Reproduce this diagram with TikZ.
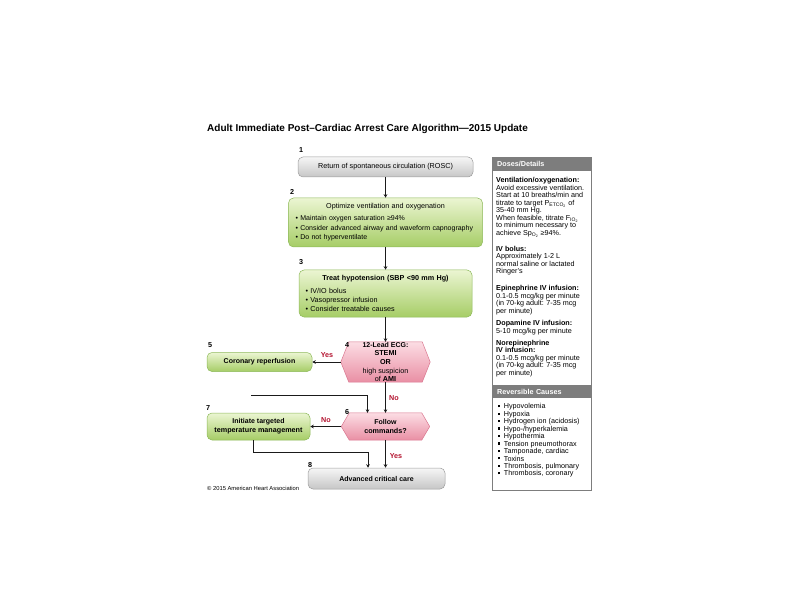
\documentclass[tikz,border=0pt]{standalone}
\usepackage{fontspec}
\setmainfont{Liberation Sans}
\usetikzlibrary{arrows.meta, positioning, calc, backgrounds}
\definecolor{inkline}{HTML}{1A1A1A}
\definecolor{greytop}{HTML}{F6F6F6}
\definecolor{greybot}{HTML}{C6C6C6}
\definecolor{greyedge}{HTML}{9C9C9C}
\definecolor{greentop}{HTML}{EBF5D2}
\definecolor{greenbot}{HTML}{A6CD66}
\definecolor{greenedge}{HTML}{8DB95A}
\definecolor{pinktop}{HTML}{FCDDE4}
\definecolor{pinkbot}{HTML}{E98FA4}
\definecolor{pinkedge}{HTML}{D9768F}
\definecolor{answerred}{HTML}{B3122E}
\definecolor{panelgrey}{HTML}{7D7D7D}
\newcommand{\boxfont}{\fontsize{7.2}{8.6}\selectfont}
\newcommand{\panelfont}{\fontsize{7.2}{7.5}\selectfont}
\newcommand{\sqbullet}{\rule[1.6pt]{2.2pt}{2.2pt}\hspace{3.5pt}}
\newcommand{\hexbox}[6]{%
  \node[hexnode, minimum width=#4, minimum height=#5] (#1) at (#2,#3) {#6};
  \begin{pgfonlayer}{background}
    \shadedraw[top color=pinktop, bottom color=pinkbot, draw=pinkedge, line width=0.5pt]
      (#1.west) -- ([xshift=8pt]#1.north west) -- ([xshift=-8pt]#1.north east)
      -- (#1.east) -- ([xshift=-8pt]#1.south east) -- ([xshift=8pt]#1.south west) -- cycle;
  \end{pgfonlayer}}

\begin{document}
\begin{tikzpicture}[x=1pt, y=-1pt, font=\boxfont,
    flowline/.style={draw=inkline, line width=0.8pt, -{Stealth[length=3.5pt, width=3.5pt]}},
    greybox/.style={rounded corners=5pt, top color=greytop, bottom color=greybot,
      draw=greyedge, line width=0.5pt, inner sep=0pt, align=center},
    greenbox/.style={rounded corners=5pt, top color=greentop, bottom color=greenbot,
      draw=greenedge, line width=0.5pt, inner sep=0pt, align=center},
    hexnode/.style={inner sep=0pt, align=center},
    stepnum/.style={font=\boxfont\bfseries, inner sep=0pt},
    answer/.style={font=\boxfont\bfseries, text=answerred, inner sep=0pt},
    panelhead/.style={fill=panelgrey, text=white, font=\boxfont\bfseries, anchor=north west,
      text width=89pt, inner xsep=5pt, inner ysep=0pt, align=left},
    panelbody/.style={anchor=north west, inner sep=0pt, align=left, font=\panelfont}]
  \useasboundingbox (0,0) rectangle (792,612);

  \node[anchor=west, inner sep=0pt, font=\fontsize{10}{12}\selectfont\bfseries] (title)
    at (207,129) {Adult Immediate Post–Cardiac Arrest Care Algorithm—2015 Update};

  % main column
  \node[greybox, minimum width=175pt, minimum height=20pt] (rosc) at (385.5,167)
    {Return of spontaneous circulation (ROSC)};
  \node[greenbox, minimum width=194pt, minimum height=49pt, text width=180pt, align=left,
        font=\fontsize{7}{9.5}\selectfont] (ventil) at (385.5,222.5)
    {\makebox[180pt]{\fontsize{7.2}{9.5}\selectfont Optimize ventilation and oxygenation}\\[2.5pt]
     \textbullet\ Maintain oxygen saturation ≥94\%\\
     \textbullet\ Consider advanced airway and waveform capnography\\
     \textbullet\ Do not hyperventilate};
  \node[greenbox, minimum width=173pt, minimum height=47pt, text width=160pt, align=left,
        font=\fontsize{7.2}{9}\selectfont] (hypot) at (385.5,293.5)
    {\makebox[160pt]{\textbf{Treat hypotension (SBP <90 mm Hg)}}\\[4pt]
     \textbullet\ IV/IO bolus\\
     \textbullet\ Vasopressor infusion\\
     \textbullet\ Consider treatable causes};
  \hexbox{ecg}{385.5}{362}{89pt}{40pt}{\fontsize{7}{7.7}\selectfont
    \textbf{12-Lead ECG:}\\ \textbf{STEMI}\\ \textbf{OR}\\ high suspicion\\ of \textbf{AMI}}
  \hexbox{follow}{385.5}{426.5}{88pt}{27pt}{\fontsize{7}{8}\selectfont
    \textbf{Follow}\\ \textbf{commands?}}
  \node[greenbox, minimum width=105pt, minimum height=19pt] (reperf) at (259.5,362)
    {\fontsize{7}{8}\selectfont\textbf{Coronary reperfusion}};
  \node[greenbox, minimum width=103pt, minimum height=27pt] (ttm) at (258.5,426.5)
    {\fontsize{7}{9}\selectfont\textbf{Initiate targeted}\\ \textbf{temperature management}};
  \node[greybox, minimum width=137pt, minimum height=21pt] (critcare) at (376.5,478.5)
    {\fontsize{7}{8}\selectfont\textbf{Advanced critical care}};

  % step numbers
  \node[stepnum] (n1) at (301,150) {1};
  \node[stepnum] (n2) at (292,192) {2};
  \node[stepnum] (n3) at (301,262) {3};
  \node[stepnum] (n4) at (347,345) {4};
  \node[stepnum] (n5) at (210,345) {5};
  \node[stepnum] (n6) at (347,412) {6};
  \node[stepnum] (n7) at (208,408) {7};
  \node[stepnum] (n8) at (310,465) {8};

  % connectors
  \draw[flowline] (rosc) -- (ventil);
  \draw[flowline] (ventil) -- (hypot);
  \draw[flowline] (hypot) -- (ecg);
  \draw[flowline] (ecg) -- (reperf);
  \draw[flowline] (ecg) -- (follow);
  \draw[flowline] (follow) -- (ttm);
  \draw[flowline] (follow.south) -- (follow.south |- critcare.north);
  \coordinate (feedin) at (251,395);
  \draw[flowline] (feedin) -| ([xshift=-18pt]follow.north);
  \coordinate (ttmjoin) at (368,452);
  \draw[flowline] ([xshift=-5.5pt]ttm.south) |- (ttmjoin) -- (ttmjoin |- critcare.north);

  \node[answer] (yes4) at (327,355) {Yes};
  \node[answer] (no4) at (394,398) {No};
  \node[answer] (no6) at (326,420) {No};
  \node[answer] (yes6) at (396,456) {Yes};

  \node[anchor=west, inner sep=0pt, font=\fontsize{5.8}{7}\selectfont] (copyright)
    at (207,488) {© 2015 American Heart Association};

  % side panel
  \node[draw=panelgrey, line width=0.6pt, minimum width=99pt, minimum height=333pt,
        inner sep=0pt, anchor=north west] (panel) at (492,157) {};
  \node[panelhead, minimum height=14pt] (doseshead) at (492,157) {Doses/Details};
  \node[panelbody] (doses) at (496,177.5)
    {\textbf{Ventilation/oxygenation:}\\
     Avoid excessive ventilation.\\
     Start at 10 breaths/min and\\
     titrate to target P\textsubscript{ETCO\textsubscript{2}} of\\
     35-40 mm Hg.\\
     When feasible, titrate F\textsubscript{IO\textsubscript{2}}\\
     to minimum necessary to\\
     achieve Sp\textsubscript{O\textsubscript{2}} ≥94\%.\\[8.5pt]
     \textbf{IV bolus:}\\
     Approximately 1-2 L\\
     normal saline or lactated\\
     Ringer's\\[9.5pt]
     \textbf{Epinephrine IV infusion:}\\
     0.1-0.5 mcg/kg per minute\\
     (in 70-kg adult: 7-35 mcg\\
     per minute)\\[5pt]
     \textbf{Dopamine IV infusion:}\\
     5-10 mcg/kg per minute\\[4.2pt]
     \textbf{Norepinephrine}\\
     \textbf{IV infusion:}\\
     0.1-0.5 mcg/kg per minute\\
     (in 70-kg adult: 7-35 mcg\\
     per minute)};
  \node[panelhead, minimum height=13pt] (causeshead) at (492,385) {Reversible Causes};
  \node[panelbody, font=\fontsize{7.2}{7.45}\selectfont] (causes) at (498,403.5)
    {\sqbullet Hypovolemia\\
     \sqbullet Hypoxia\\
     \sqbullet Hydrogen ion (acidosis)\\
     \sqbullet Hypo-/hyperkalemia\\
     \sqbullet Hypothermia\\
     \sqbullet Tension pneumothorax\\
     \sqbullet Tamponade, cardiac\\
     \sqbullet Toxins\\
     \sqbullet Thrombosis, pulmonary\\
     \sqbullet Thrombosis, coronary};
\end{tikzpicture}
\end{document}
